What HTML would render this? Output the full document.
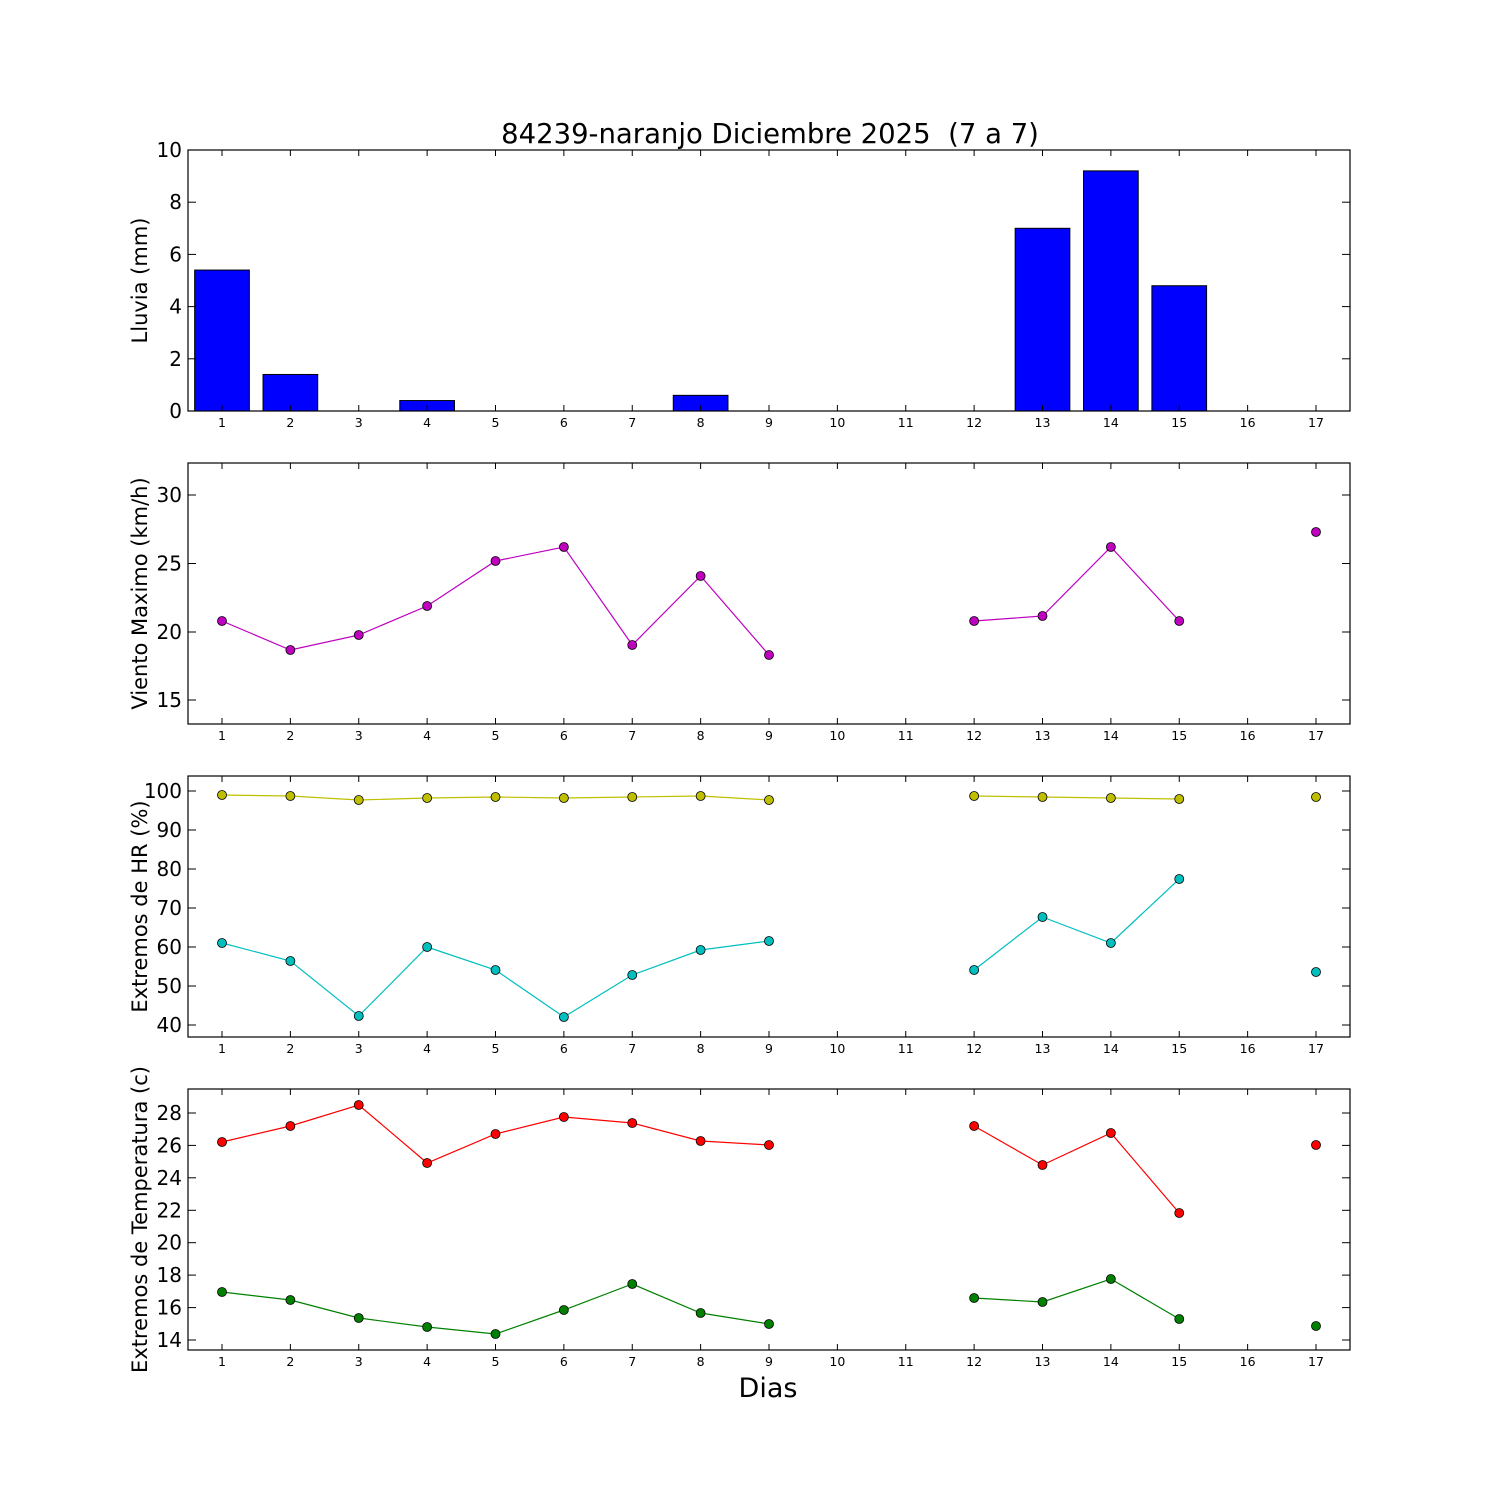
<!DOCTYPE html>
<html><head><meta charset="utf-8"><style>body{margin:0;background:#fff}svg{display:block}</style></head>
<body>
<svg id="s" width="1500" height="1500" xmlns="http://www.w3.org/2000/svg" font-family="DejaVu Sans, Liberation Sans, sans-serif">
<rect width="1500" height="1500" fill="#fff"/>
<text x="770" y="143" font-size="27.5" text-anchor="middle">84239-naranjo Diciembre 2025 &#160;(7 a 7)</text>
<text x="768" y="1397" font-size="27" text-anchor="middle">Dias</text>
<g id="g"></g>
</svg>
<script>
const g=document.getElementById('g');let h='';
const X=d=>222+(d-1)*68.375;
const panels=[[150,411],[463,724],[776,1037],[1089,1350]];
const rain=[5.4,1.4,0,0.4,0,0,0,0.6,0,0,0,0,7.0,9.2,4.8,0,0];
rain.forEach((v,i)=>{const x=X(i+1)-27.35,y=411-v*26.1;h+=`<rect x="${x}" y="${y}" width="54.7" height="${411-y}" fill="#0000ff" stroke="#000" stroke-width="1"/>`;});
function series(pts,col){let segs=[],cur=[];let prev=null;
 pts.forEach(p=>{if(prev&&p[0]-prev[0]===1)cur.push(p);else{if(cur.length)segs.push(cur);cur=[p];}prev=p;});segs.push(cur);
 segs.forEach(s=>{if(s.length>1)h+=`<polyline fill="none" stroke="${col}" stroke-width="1.2" points="${s.map(p=>X(p[0])+','+p[1]).join(' ')}"/>`;});
 pts.forEach(p=>h+=`<circle cx="${X(p[0])}" cy="${p[1]}" r="4.5" fill="${col}" stroke="#000" stroke-width="0.8"/>`);}
const days=[1,2,3,4,5,6,7,8,9,12,13,14,15,17];
const mk=a=>a.map((y,i)=>[days[i],y]);
series(mk([621,650,635,606,561,547,645,576,655,621,616,547,621,532]),'#bf00bf');
series(mk([795,796,800,798,797,798,797,796,800,796,797,798,799,797]),'#bfbf00');
series(mk([943,961,1016,947,970,1017,975,950,941,970,917,943,879,972]),'#00bfbf');
series(mk([1142,1126,1105,1163,1134,1117,1123,1141,1145,1126,1165,1133,1213,1145]),'#ff0000');
series(mk([1292,1300,1318,1327,1334,1310,1284,1313,1324,1298,1302,1279,1319,1326]),'#008000');
const yt=[
 [[0,411],[2,358.8],[4,306.6],[6,254.4],[8,202.2],[10,150]],
 [[15,700],[20,632],[25,563.5],[30,495]],
 [[40,1025],[50,986],[60,947],[70,908],[80,869],[90,830],[100,791]],
 [[14,1340],[16,1307.6],[18,1275.1],[20,1242.7],[22,1210.3],[24,1177.8],[26,1145.4],[28,1113]]];
const labels=['Lluvia (mm)','Viento Maximo (km/h)','Extremos de HR (%)','Extremos de Temperatura (c)'];
panels.forEach(([t,b],k)=>{
 h+=`<rect x="188" y="${t}" width="1162" height="${b-t}" fill="none" stroke="#000" stroke-width="1.2"/>`;
 for(let d=1;d<=17;d++){const x=X(d);h+=`<line x1="${x}" y1="${b}" x2="${x}" y2="${b-6}" stroke="#000"/><line x1="${x}" y1="${t}" x2="${x}" y2="${t+6}" stroke="#000"/><text x="${x}" y="${b+16}" font-size="12.5" text-anchor="middle">${d}</text>`;}
 yt[k].forEach(([v,y])=>{h+=`<line x1="188" y1="${y}" x2="196" y2="${y}" stroke="#000"/><line x1="1350" y1="${y}" x2="1342" y2="${y}" stroke="#000"/><text x="182" y="${y+7}" font-size="20" text-anchor="end">${v}</text>`;});
 const cy=(t+b)/2;h+=`<text transform="translate(147,${cy}) rotate(-90)" font-size="21" text-anchor="middle">${labels[k]}</text>`;
});
g.innerHTML=h;
</script>
</body></html>
